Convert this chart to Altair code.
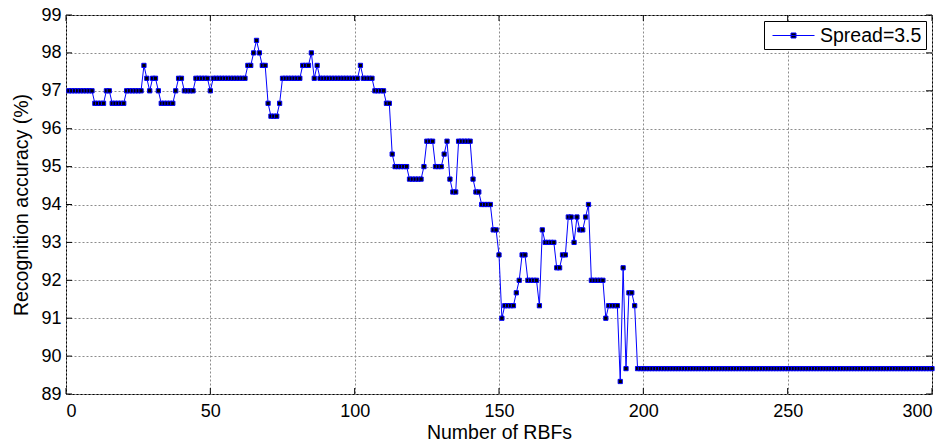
import altair as alt
import pandas as pd

# Recognition accuracy, as runs of equal values (x = 1..300)
run_values = [97.0, 96.67, 97.0, 96.67, 97.0, 97.67, 97.33, 97.0, 97.33, 97.0,
              96.67, 97.0, 97.33, 97.0, 97.33, 97.0, 97.33, 97.67, 98.0, 98.33,
              98.0, 97.67, 96.67, 96.33, 96.67, 97.33, 97.67, 98.0, 97.33, 97.67,
              97.33, 97.67, 97.33, 97.0, 96.67, 95.33, 95.0, 94.67, 95.0, 95.67,
              95.0, 95.33, 95.67, 94.67, 94.33, 95.67, 94.67, 94.33, 94.0, 93.33,
              92.67, 91.0, 91.33, 91.67, 92.0, 92.67, 92.0, 91.33, 93.33, 93.0,
              92.33, 92.67, 93.67, 93.0, 93.67, 93.33, 93.67, 94.0, 92.0, 91.0,
              91.33, 89.33, 92.33, 89.67, 91.67, 91.33, 89.67]
run_lengths = [9, 4, 2, 5, 6, 1, 1, 1, 2, 1,
               5, 1, 2, 4, 5, 1, 12, 2, 1, 1,
               1, 2, 1, 3, 1, 7, 3, 1, 1, 1,
               14, 1, 4, 4, 2, 1, 5, 5, 1, 3,
               3, 1, 1, 1, 2, 5, 1, 2, 4, 2,
               1, 1, 4, 1, 1, 2, 4, 1, 1, 4,
               2, 2, 2, 1, 1, 2, 1, 1, 5, 1,
               4, 1, 1, 1, 2, 1, 103]

x_ticks = [0, 50, 100, 150, 200, 250, 300]
y_ticks = [89, 90, 91, 92, 93, 94, 95, 96, 97, 98, 99]
series_name = "Spread=3.5"

acc = []
for v, n in zip(run_values, run_lengths):
    acc.extend([v] * n)
rbfs = list(range(1, len(acc) + 1))
df = pd.DataFrame({"rbfs": rbfs, "acc": acc, "series": series_name})

FONT = "Liberation Sans"
W, H = 866, 379
xs = alt.Scale(domain=[0, 300], nice=False, zero=False)
ys = alt.Scale(domain=[89, 99], nice=False, zero=False)
xaxis = alt.Axis(values=x_ticks, title="Number of RBFs", grid=True,
                 labelPadding=8, titlePadding=3)
yaxis = alt.Axis(values=y_ticks, title="Recognition accuracy (%)", grid=True,
                 labelPadding=5, titlePadding=9)

line = alt.Chart(df).mark_line(color="#0000ff", strokeWidth=1).encode(
    x=alt.X("rbfs:Q", scale=xs, axis=xaxis),
    y=alt.Y("acc:Q", scale=ys, axis=yaxis),
)

# legend sample: a 42 px line with a small square in the middle (size 400 -> unit = 10 px)
legend_path = "M-2.1,0H2.1M-0.25,-0.25H0.25V0.25H-0.25Z"
pts = alt.Chart(df).mark_point(shape="square", filled=True, fill="black", size=18,
                               strokeWidth=1, opacity=1).encode(
    x=alt.X("rbfs:Q", scale=xs, axis=xaxis),
    y=alt.Y("acc:Q", scale=ys, axis=yaxis),
    stroke=alt.Stroke("series:N", scale=alt.Scale(range=["#0000ff"]),
                      legend=alt.Legend(title=None, symbolType=legend_path,
                                        symbolSize=400, symbolFillColor="black",
                                        symbolStrokeColor="#0000ff", symbolStrokeWidth=1,
                                        symbolOpacity=1, symbolOffset=15, labelOffset=16)),
)

ytick_df = pd.DataFrame({"rbfs": [0] * len(y_ticks), "acc": y_ticks})
xtick_df = pd.DataFrame({"rbfs": x_ticks, "acc": [89] * len(x_ticks)})
yt_left = alt.Chart(ytick_df).mark_rule(color="black", strokeWidth=1).encode(
    y=alt.Y("acc:Q", scale=ys, axis=yaxis), x=alt.value(0), x2=alt.value(6))
yt_right = alt.Chart(ytick_df).mark_rule(color="black", strokeWidth=1).encode(
    y=alt.Y("acc:Q", scale=ys, axis=yaxis), x=alt.value(W - 6), x2=alt.value(W))
xt_bot = alt.Chart(xtick_df).mark_rule(color="black", strokeWidth=1).encode(
    x=alt.X("rbfs:Q", scale=xs, axis=xaxis), y=alt.value(H - 6), y2=alt.value(H))
xt_top = alt.Chart(xtick_df).mark_rule(color="black", strokeWidth=1).encode(
    x=alt.X("rbfs:Q", scale=xs, axis=xaxis), y=alt.value(0), y2=alt.value(6))

chart = alt.layer(line, yt_left, yt_right, xt_bot, xt_top, pts).properties(
    width=W, height=H,
    autosize=alt.AutoSizeParams(type="none"),
    padding={"left": 66, "top": 15, "right": 16, "bottom": 49},
    background="white",
).configure_view(
    stroke="black", strokeWidth=1
).configure_axis(
    domain=False, ticks=False,
    gridColor="#8c8c8c", gridDash=[2, 2], gridWidth=1, gridOpacity=1,
    labelFont=FONT, labelFontSize=18, labelColor="black",
    titleFont=FONT, titleFontSize=19.5, titleColor="black", titleFontWeight="normal",
).configure_legend(
    orient="top-right", offset=6, padding=4,
    strokeColor="black", fillColor="white", cornerRadius=0,
    labelFont=FONT, labelFontSize=19.5, labelColor="black",
)

chart.save("out.html", embed_options={"renderer": "svg", "actions": False})
